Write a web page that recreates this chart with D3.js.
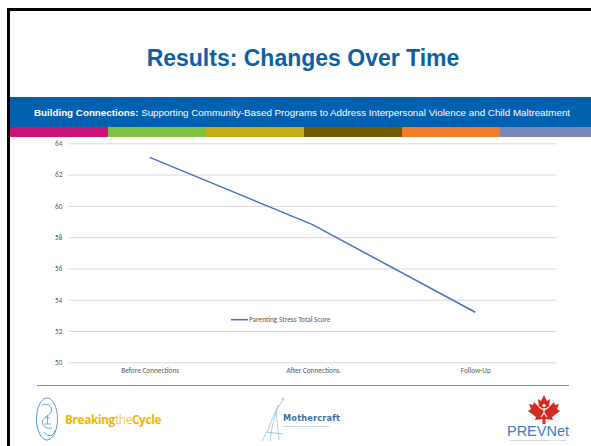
<!DOCTYPE html>
<html>
<head>
<meta charset="utf-8">
<script src="https://cdn.jsdelivr.net/npm/d3@7"></script>
<style>
  html, body { margin: 0; padding: 0; background: #fff; }
  svg { display: block; }
</style>
</head>
<body>
<svg id="slide" width="591" height="446"></svg>
<script>
// Chart data
const categories = ["Before Connections", "After Connections", "Follow-Up"];
const seriesName = "Parenting Stress Total Score";
const seriesValues = [63.1, 58.8, 53.2];
const yTicks = [50, 52, 54, 56, 58, 60, 62, 64];

// Slide decoration
const stripeColors = ["#CC1277", "#7DC242", "#C9AE1B", "#715B00", "#F27D2B", "#7B87B8"];

const svg = d3.select("#slide");

// slide frame (left and top edges)
svg.append("rect").attr("x", 0).attr("y", 0).attr("width", 591).attr("height", 446).attr("fill", "#fff");
svg.append("path")
  .attr("d", "M8.5,446 L8.5,9.5 L591,9.5")
  .attr("fill", "none").attr("stroke", "#000").attr("stroke-width", 3);

// title
svg.append("text")
  .attr("x", 303).attr("y", 66)
  .attr("text-anchor", "middle")
  .attr("font-family", "Liberation Sans, Arial, sans-serif")
  .attr("font-weight", "bold").attr("font-size", 23)
  .attr("fill", "#0C5FA8")
  .text("Results: Changes Over Time");

// blue banner
svg.append("rect").attr("x", 10).attr("y", 97).attr("width", 581).attr("height", 30).attr("fill", "#0261AF");
const sub = svg.append("text")
  .attr("x", 302).attr("y", 116)
  .attr("text-anchor", "middle")
  .attr("font-family", "Liberation Sans, Arial, sans-serif")
  .attr("font-size", 9.8)
  .attr("fill", "#fff");
sub.append("tspan").attr("font-weight", "bold").text("Building Connections: ");
sub.append("tspan").text("Supporting Community-Based Programs to Address Interpersonal Violence and Child Maltreatment");

// colour stripes
const stripeX = d3.scaleBand().domain(d3.range(stripeColors.length)).range([10, 598]);
svg.append("g").selectAll("rect").data(stripeColors).join("rect")
  .attr("x", (d, i) => stripeX(i)).attr("y", 127)
  .attr("width", stripeX.bandwidth() + 0.5).attr("height", 10)
  .attr("fill", d => d);

// chart
const x = d3.scalePoint().domain(categories).range([68.3, 556.7]).padding(0.5);
const y = d3.scaleLinear().domain([50, 64]).range([362.3, 143.3]);

const tickFont = "Carlito, 'Open Sans', 'Liberation Sans', sans-serif";

const yAxis = svg.append("g")
  .attr("transform", "translate(68.3,0)")
  .call(d3.axisLeft(y).tickValues(yTicks).tickSize(-(556.7 - 68.3)).tickPadding(6).tickFormat(d3.format("d")));
yAxis.select(".domain").remove();
yAxis.selectAll(".tick line").attr("stroke", "#d9d9d9").attr("stroke-width", 1);
yAxis.selectAll(".tick text").attr("fill", "#595959").attr("font-size", 7.2).attr("font-family", tickFont);

const xAxis = svg.append("g")
  .attr("transform", "translate(0,362.3)")
  .call(d3.axisBottom(x).tickSize(0).tickPadding(6));
xAxis.select(".domain").remove();
xAxis.selectAll(".tick text").attr("fill", "#595959").attr("font-size", 7.3).attr("font-family", tickFont);

const line = d3.line().x((d, i) => x(categories[i])).y(d => y(d));
svg.append("path")
  .datum(seriesValues)
  .attr("d", line)
  .attr("fill", "none").attr("stroke", "#4472C4").attr("stroke-width", 1.5);

// legend
const lg = svg.append("g").attr("transform", "translate(231,319.7)");
lg.append("line").attr("x1", 0).attr("x2", 17).attr("stroke", "#4472C4").attr("stroke-width", 1.5);
lg.append("text").attr("x", 18).attr("dy", "0.35em")
  .attr("fill", "#595959").attr("font-size", 7.3).attr("font-family", tickFont)
  .text(seriesName);

// footer rule
svg.append("line").attr("x1", 37).attr("x2", 569).attr("y1", 385.5).attr("y2", 385.5)
  .attr("stroke", "#8a8a8a").attr("stroke-width", 1);

// Breaking the Cycle logo
const btc = svg.append("g");
btc.append("ellipse").attr("cx", 47).attr("cy", 419).attr("rx", 10.5).attr("ry", 21)
  .attr("fill", "none").attr("stroke", "#5B9BD5").attr("stroke-width", 1);
btc.append("path").attr("d", "M42,405 C52,402 55,412 47,416 C39,420 42,430 52,428 M44,432 C48,438 54,436 55,430")
  .attr("fill", "none").attr("stroke", "#5B9BD5").attr("stroke-width", 0.9);
btc.append("path").attr("d", "M45,418 L50,418 M47.5,415 L47.5,424 M44,424 L51,424")
  .attr("fill", "none").attr("stroke", "#5B9BD5").attr("stroke-width", 0.8);
const btcText = btc.append("text").attr("x", 65).attr("y", 424)
  .attr("font-family", "'Open Sans', 'Liberation Sans', sans-serif").attr("font-size", 11.8).attr("letter-spacing", -0.35);
btcText.append("tspan").attr("font-weight", "bold").attr("fill", "#F6B400").text("Breaking");
btcText.append("tspan").attr("fill", "#F8C54E").text("the");
btcText.append("tspan").attr("font-weight", "bold").attr("fill", "#F6B400").text("Cycle");

// Mothercraft logo
const mc = svg.append("g");
mc.append("path").attr("d", "M283,400 L275,412 L268,430 L262,441 M278,405 L272,428 L270,441 M276,410 L279,440 M266,432 L283,434")
  .attr("fill", "none").attr("stroke", "#8DB3D9").attr("stroke-width", 0.7);
mc.append("circle").attr("cx", 283).attr("cy", 399).attr("r", 1.2).attr("fill", "#E8C060");
mc.append("text").attr("x", 283).attr("y", 421)
  .attr("font-family", "'DejaVu Sans', sans-serif").attr("font-weight", "bold")
  .attr("font-size", 8.2).attr("letter-spacing", 0.2).attr("fill", "#3E6E9E")
  .text("Mothercraft");
mc.append("text").attr("x", 341).attr("y", 416).attr("font-size", 2.5).attr("fill", "#3E6E9E").text("®");
mc.append("text").attr("x", 283).attr("y", 426.5)
  .attr("font-family", "'Liberation Sans', sans-serif").attr("font-size", 2.4).attr("fill", "#6E8FB5")
  .text("Shaping Children's Lives Through Learning");

// PREVNet logo
const pv = svg.append("g");
pv.append("path")
  .attr("d", "M544,395 L547,401 L550,399 L549,407 L554,402 L555,405 L559,404 L557,409 L560,411 L552,417 L553,420 L545.5,419 L545.5,424 L542.5,424 L542.5,419 L535,420 L536,417 L528,411 L531,409 L529,404 L533,405 L534,402 L539,407 L538,399 L541,401 Z")
  .attr("fill", "#D42A20");
pv.append("circle").attr("cx", 544).attr("cy", 405.5).attr("r", 1.6).attr("fill", "#fff");
pv.append("path").attr("d", "M539,407 L544,410 L549,407 M544,408 L544,413 L541,417 M544,413 L547,417")
  .attr("fill", "none").attr("stroke", "#fff").attr("stroke-width", 1.2);
pv.append("text").attr("x", 538).attr("y", 436)
  .attr("text-anchor", "middle")
  .attr("font-family", "'Liberation Sans', Arial, sans-serif").attr("font-size", 14.5)
  .attr("fill", "#3B7DC0")
  .text("PREVNet");
pv.append("text").attr("x", 538).attr("y", 441)
  .attr("text-anchor", "middle").attr("font-family", "'Liberation Sans', sans-serif")
  .attr("font-size", 2.2).attr("fill", "#7A9CC0")
  .text("Promoting Relationships and Eliminating Violence Network");
</script>
</body>
</html>
